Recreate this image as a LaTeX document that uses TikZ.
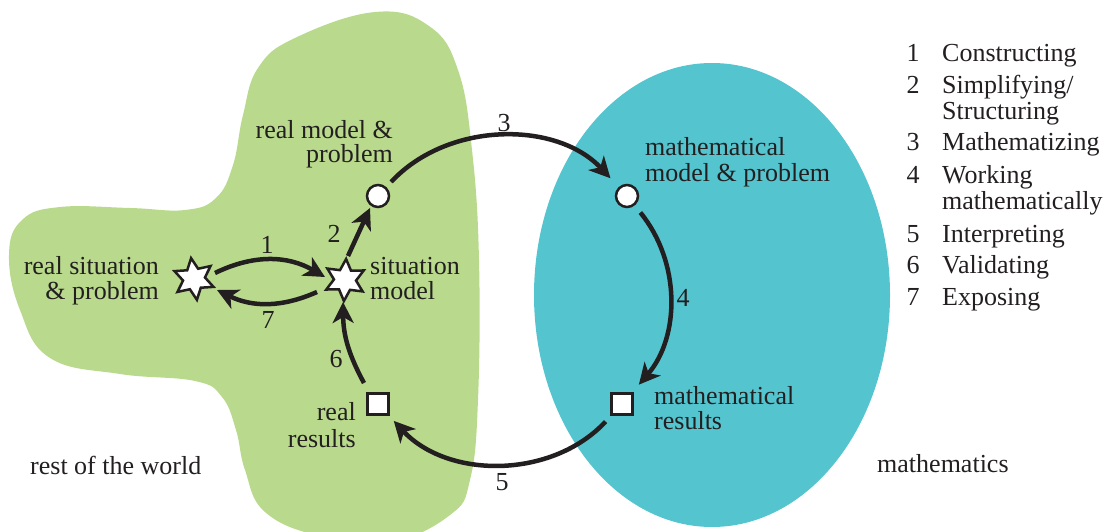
\documentclass[tikz,border=0pt]{standalone}
\usepackage{fontspec}
\setmainfont{Liberation Serif}
\usetikzlibrary{arrows.meta,shapes.geometric,calc}
\definecolor{worldgreen}{HTML}{B9DA8C}
\definecolor{mathblue}{HTML}{54C4CF}
\definecolor{ink}{HTML}{231F20}
\tikzset{
  txt/.style={inner sep=0pt, font=\fontsize{26}{26}\selectfont, text=ink},
  starnode/.style={star, star points=6, star point ratio=1.9, minimum size=42pt, inner sep=0pt, draw=ink, fill=white, line width=2.5pt, line join=miter},
  circnode/.style={circle, minimum size=22pt, inner sep=0pt, draw=ink, fill=white, line width=2.5pt},
  sqnode/.style={rectangle, minimum size=21pt, inner sep=0pt, draw=ink, fill=white, line width=2.5pt},
  flow/.style={draw=ink, line width=4.5pt, -{Stealth[length=21pt,width=21pt,inset=6pt]}},
}
\begin{document}
\begin{tikzpicture}[x=1pt,y=1pt]
\useasboundingbox (0,0) rectangle (1108,531);
\clip (0,0) rectangle (1108,531);
% regions
\fill[worldgreen] plot[smooth cycle, tension=0.7] coordinates {
  (375,519) (429,505) (458,461) (472,381) (479,271) (478,131) (470,51)
  (450,16) (390,-11) (320,-5) (265,19) (245,61) (236,101) (222,134)
  (195,150) (120,157) (50,173) (20,221) (9,276) (22,311) (60,324)
  (130,323) (185,321) (216,333) (233,366) (243,416) (258,463) (295,493)};
\fill[mathblue] (712,236) ellipse [x radius=178, y radius=232];
% nodes
\node[starnode, shape border rotate=8] (s1) at (194,252) {};
\node[starnode, shape border rotate=-3] (s2) at (345,251) {};
\node[circnode] (c1) at (378,335) {};
\node[circnode] (c2) at (627,335) {};
\node[sqnode] (q1) at (378,127) {};
\node[sqnode] (q2) at (622,127) {};
% connectors
\draw[flow] ([shift={(21,6)}]s1.center) to[bend left=28] ([shift={(-20,3)}]s2.center);
\draw[flow] ([shift={(-28,-12)}]s2.center) to[bend left=25] ([shift={(23,-11)}]s1.center);
\draw[flow] ([shift={(3,24)}]s2.center) -- ([shift={(-8,-12)}]c1.center);
\draw[flow] ([shift={(-14,21)}]q1.center) to[bend left=14] ([shift={(-2,-22)}]s2.center);
\draw[flow, shorten <=7pt, shorten >=12pt] (c1) to[bend left=47] (c2);
\draw[flow, shorten <=9pt, shorten >=10pt] (c2) to[bend left=40] (q2);
\draw[flow, shorten <=8pt, shorten >=7pt] (q2) to[bend left=47] (q1);
% connector labels
\node[txt] (n1) at (267,286) {1};
\node[txt] (n2) at (334,297) {2};
\node[txt] (n3) at (504,408) {3};
\node[txt] (n4) at (683,233) {4};
\node[txt] (n5) at (502,49) {5};
\node[txt] (n6) at (336,172) {6};
\node[txt] (n7) at (268,211) {7};
% texts (base anchor = baseline of the last line)
\node[txt, font=\fontsize{26}{24}\selectfont, align=right, anchor=base east] (trm) at (393,368) {real model \&\\problem};
\node[txt, font=\fontsize{26}{25}\selectfont, align=right, anchor=base east] (trs) at (159,232) {real situation\\\& problem};
\node[txt, font=\fontsize{26}{25}\selectfont, align=left, anchor=base west] (tsm) at (370,232) {situation\\model};
\node[txt, font=\fontsize{26}{27}\selectfont, align=right, anchor=base east] (trr) at (356,84) {real\\results};
\node[txt, font=\fontsize{26}{26}\selectfont, align=left, anchor=base west] (tmm) at (645,349) {mathematical\\model \& problem};
\node[txt, font=\fontsize{26}{25}\selectfont, align=left, anchor=base west] (tmr) at (654,102) {mathematical\\results};
\node[txt, anchor=base west] (trw) at (30,57) {rest of the world};
\node[txt, anchor=base west] (tma) at (877,59) {mathematics};
% legend
\node[txt, anchor=base] (k1) at (913,469) {1};
\node[txt, anchor=base west] (e1) at (942,469) {Constructing};
\node[txt, anchor=base] (k2) at (913,437) {2};
\node[txt, anchor=base west, align=left] (e2) at (942,411) {Simplifying/\\Structuring};
\node[txt, anchor=base] (k3) at (913,380) {3};
\node[txt, anchor=base west] (e3) at (942,380) {Mathematizing};
\node[txt, anchor=base] (k4) at (913,347) {4};
\node[txt, anchor=base west, align=left] (e4) at (942,321) {Working\\mathematically};
\node[txt, anchor=base] (k5) at (913,289) {5};
\node[txt, anchor=base west] (e5) at (942,289) {Interpreting};
\node[txt, anchor=base] (k6) at (913,258) {6};
\node[txt, anchor=base west] (e6) at (942,258) {Validating};
\node[txt, anchor=base] (k7) at (913,226) {7};
\node[txt, anchor=base west] (e7) at (942,226) {Exposing};
\end{tikzpicture}
\end{document}
